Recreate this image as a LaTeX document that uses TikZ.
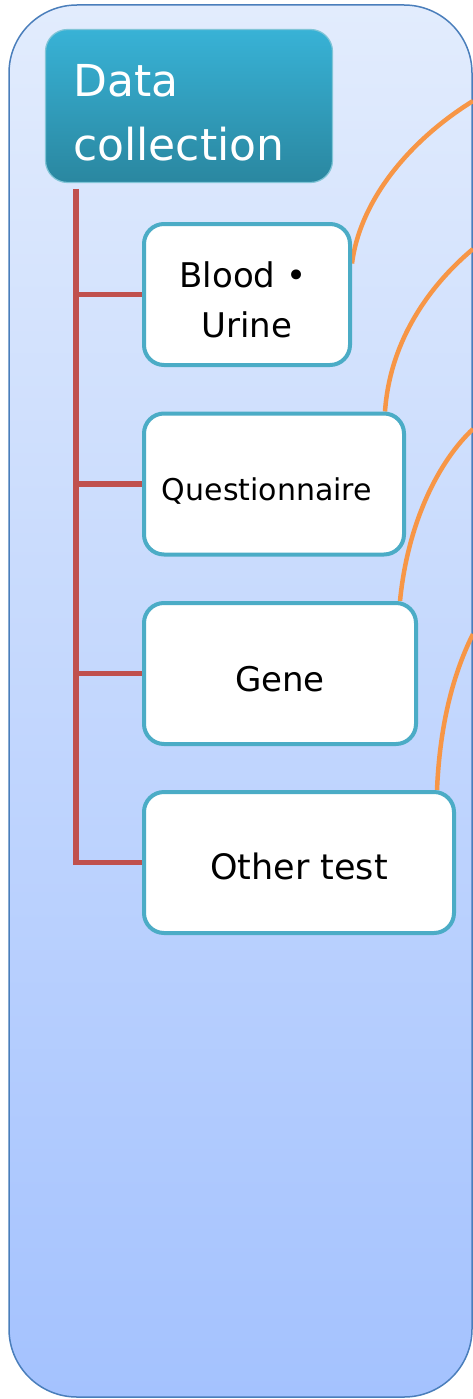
\documentclass[tikz,border=0pt]{standalone}
\usepackage{fontspec}
\setmainfont{DejaVu Sans}
\usetikzlibrary{calc}
\pgfdeclarelayer{back}
\pgfdeclarelayer{mid}
\pgfsetlayers{back,mid,main}
\definecolor{outerline}{RGB}{74,126,187}
\definecolor{outertop}{RGB}{226,236,253}
\definecolor{outerbot}{RGB}{164,194,254}
\definecolor{hdrtop}{RGB}{56,178,214}
\definecolor{hdrbot}{RGB}{42,135,160}
\definecolor{tealb}{RGB}{75,172,198}
\definecolor{treered}{RGB}{192,80,77}
\definecolor{curveor}{RGB}{247,150,70}
\begin{document}
\begin{tikzpicture}[x=1pt,y=-1pt,
  outerbox/.style={draw=outerline, line width=1.5pt, top color=outertop, bottom color=outerbot, rounded corners=68pt},
  hdrbox/.style={rounded corners=22pt, draw=tealb!70!white, line width=1.2pt, top color=hdrtop, bottom color=hdrbot, minimum width=287pt, minimum height=153pt, inner sep=0pt},
  hdrtext/.style={font=\fontsize{44}{64}\selectfont, text=white, align=left, inner sep=0pt},
  itembox/.style={draw=tealb, line width=4pt, fill=white, rounded corners=20pt, minimum height=141pt, inner sep=0pt, text=black},
  tree/.style={draw=treered, line width=5.5pt},
  link/.style={draw=curveor, line width=4.5pt}]
\useasboundingbox (0,0) rectangle (472,1399);
\begin{pgfonlayer}{back}
\path[outerbox] (9,5) rectangle (472,1397);
\end{pgfonlayer}
% nodes
\node[hdrbox] (hdr) at (189,106) {};
\node[hdrtext, anchor=north west] (hdrtxt) at (73,64) {Data\\collection};
\node[itembox, minimum width=206pt, align=center, font=\fontsize{34}{50}\selectfont] (blood) at (247,294.5) {\rule{0pt}{37pt}Blood •\kern8pt\\Urine};
\node[itembox, minimum width=260pt, font=\fontsize{30}{36}\selectfont, text height=32pt, text depth=0pt] (quest) at (274,484) {Questionnaire\kern14pt};
\node[itembox, minimum width=272pt, font=\fontsize{34}{40}\selectfont, text height=35pt, text depth=0pt] (gene) at (280,673.5) {Gene};
\node[itembox, minimum width=310pt, font=\fontsize{35}{42}\selectfont, text height=34pt, text depth=0pt] (other) at (299,862.5) {Other test};
% free ends
\coordinate (treetop) at (76,189);
\coordinate (e1) at (473,101);
\coordinate (e2) at (473,249);
\coordinate (e3) at (473,429);
\coordinate (e4) at (473,634);
\begin{pgfonlayer}{mid}
\draw[tree] (treetop) |- (other.west);
\draw[tree] (treetop |- blood.west) -- (blood.west);
\draw[tree] (treetop |- quest.west) -- (quest.west);
\draw[tree] (treetop |- gene.west) -- (gene.west);
\draw[link] ([yshift=31pt]blood.east) .. controls (360,200) and (410,140) .. (e1);
\draw[link] ([xshift=-21pt]quest.north east) .. controls (390,340) and (430,285) .. (e2);
\draw[link] ([xshift=-18pt]gene.north east) .. controls (408,520) and (440,460) .. (e3);
\draw[link] ([xshift=-19pt]other.north east) .. controls (440,720) and (455,670) .. (e4);
\end{pgfonlayer}
\end{tikzpicture}
\end{document}
